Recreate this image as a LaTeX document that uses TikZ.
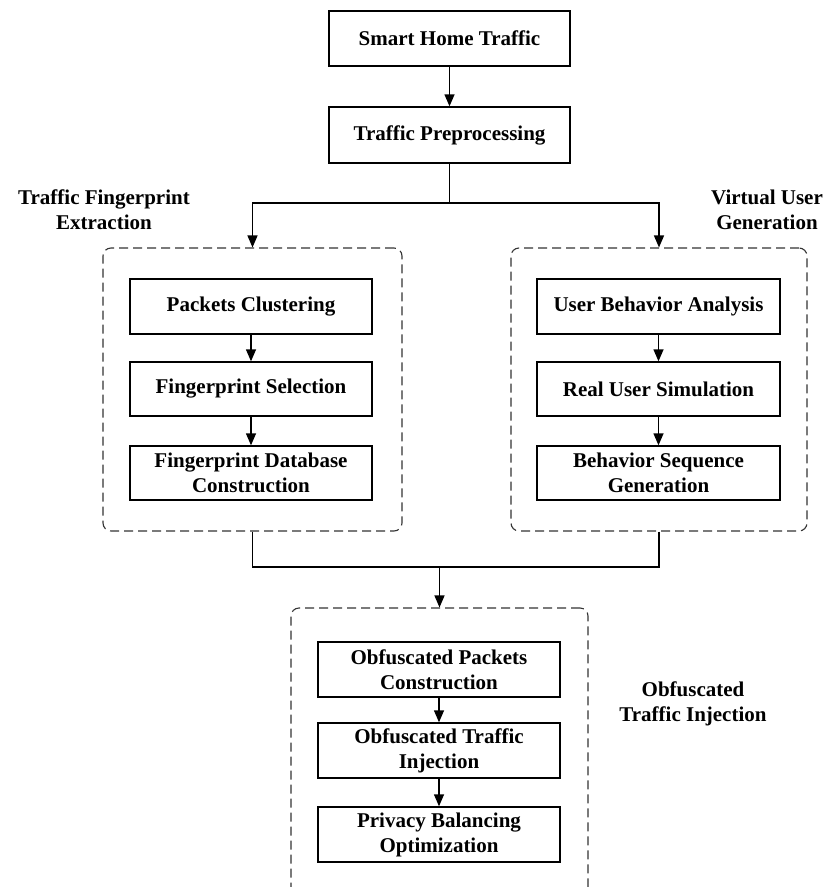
\documentclass[tikz,border=0pt]{standalone}
\usepackage{fontspec}
\setmainfont{Liberation Serif}
\usetikzlibrary{arrows.meta}
\begin{document}
\begin{tikzpicture}[x=1pt,y=-1pt,
  font=\fontsize{21}{25}\selectfont\bfseries,
  stepbox/.style={draw=black,line width=1.4pt,minimum width=242pt,minimum height=55pt,align=center,inner sep=0pt},
  group/.style={draw=black!80,line width=1.1pt,dash pattern=on 9pt off 5pt,rounded corners=8pt,inner sep=0pt},
  lbl/.style={align=center,inner sep=0pt},
  conn/.style={line width=1.4pt},
  arr/.style={conn,-{Triangle[length=12pt,width=10pt]}}]
\clip (0,0) rectangle (826,887);
\useasboundingbox (0,0) rectangle (826,887);
% top chain
\node[stepbox,minimum width=241pt] (smart) at (449.5,38.5) {Smart Home Traffic};
\node[stepbox,minimum width=241pt,minimum height=56pt] (pre) at (449.5,135) {Traffic Preprocessing};
% groups
\node[group,minimum width=299pt,minimum height=283pt] (gL) at (252.5,389.5) {};
\node[group,minimum width=296pt,minimum height=283pt] (gR) at (659,389.5) {};
\node[group,minimum width=297pt,minimum height=300pt] (gB) at (439.5,758) {};
% left group
\node[stepbox] (l1) at (251,306.5) {Packets Clustering};
\node[stepbox,minimum height=54pt] (l2) at (251,389) {Fingerprint Selection};
\node[stepbox,minimum height=54pt] (l3) at (251,473) {Fingerprint Database\\Construction};
% right group
\node[stepbox,minimum width=243pt] (r1) at (658.5,306.5) {User Behavior Analysis};
\node[stepbox,minimum width=243pt,minimum height=54pt] (r2) at (658.5,389) {Real User Simulation};
\node[stepbox,minimum width=243pt,minimum height=54pt] (r3) at (658.5,473) {Behavior Sequence\\Generation};
% bottom group
\node[stepbox] (b1) at (439,669.5) {Obfuscated Packets\\Construction};
\node[stepbox] (b2) at (439,750.5) {Obfuscated Traffic\\Injection};
\node[stepbox] (b3) at (439,834.5) {Privacy Balancing\\Optimization};
% labels
\node[lbl] (tL) at (104,210) {Traffic Fingerprint\\Extraction};
\node[lbl] (tR) at (767,210) {Virtual User\\Generation};
\node[lbl] (tB) at (693,704) {Obfuscated\\Traffic Injection};
% connectors
\coordinate (split) at (449.5,203);
\coordinate (join) at (439.5,567);
\draw[arr] (smart) -- (pre);
\draw[conn] (pre.south) -- (split);
\draw[arr] (split) -| (gL.north);
\draw[arr] (split) -| (gR.north);
\draw[arr] (l1) -- (l2);
\draw[arr] (l2) -- (l3);
\draw[arr] (r1) -- (r2);
\draw[arr] (r2) -- (r3);
\draw[conn] (gL.south) |- (join);
\draw[conn] (gR.south) |- (join);
\draw[arr] (join) -- (gB.north);
\draw[arr] (b1) -- (b2);
\draw[arr] (b2) -- (b3);
\end{tikzpicture}
\end{document}
